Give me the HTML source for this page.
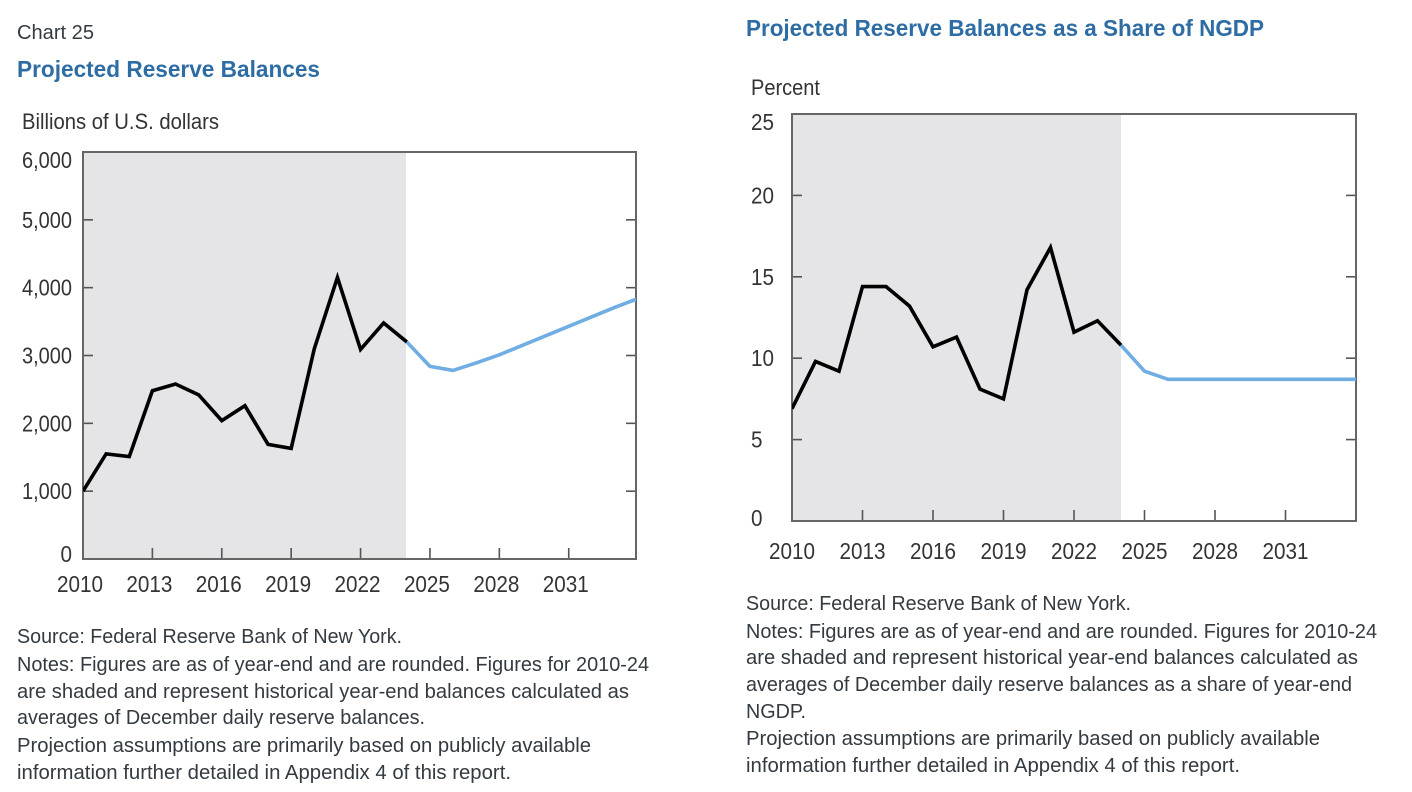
<!DOCTYPE html>
<html lang="en">
<head>
<meta charset="utf-8">
<title>Projected Reserve Balances</title>
<style>
html,body{margin:0;padding:0;background:#fff;width:1412px;height:792px;overflow:hidden}
svg{display:block}
text{font-family:"Liberation Sans",sans-serif}
.body{font-size:20px;fill:#333a40}
.title{font-size:23px;font-weight:bold;fill:#2e6ca4}
.unit{font-size:22px;fill:#333}
.tick{font-size:23px;fill:#333}
</style>
</head>
<body>
<svg id="root" xmlns="http://www.w3.org/2000/svg" width="1412" height="792" viewBox="0 0 1412 792">
  <defs>
    <clipPath id="clip-left"><rect x="83" y="152" width="553" height="407"/></clipPath>
    <clipPath id="clip-right"><rect x="792" y="114" width="564" height="407"/></clipPath>
  </defs>

  <text class="body" x="17" y="39" textLength="77" lengthAdjust="spacingAndGlyphs">Chart 25</text>
  <text class="title" x="17" y="77" textLength="303" lengthAdjust="spacingAndGlyphs">Projected Reserve Balances</text>
  <text class="unit" x="22" y="129" textLength="197" lengthAdjust="spacingAndGlyphs">Billions of U.S. dollars</text>

  <text class="title" x="746" y="36" textLength="518" lengthAdjust="spacingAndGlyphs">Projected Reserve Balances as a Share of NGDP</text>
  <text class="unit" x="751" y="95" textLength="69" lengthAdjust="spacingAndGlyphs">Percent</text>

  <g id="left-plot"></g>
  <g id="right-plot"></g>

  <g>
    <text class="body" x="17" y="643" textLength="385" lengthAdjust="spacingAndGlyphs">Source: Federal Reserve Bank of New York.</text>
    <text class="body" x="17" y="671" textLength="632" lengthAdjust="spacingAndGlyphs">Notes: Figures are as of year-end and are rounded. Figures for 2010-24</text>
    <text class="body" x="17" y="698" textLength="612" lengthAdjust="spacingAndGlyphs">are shaded and represent historical year-end balances calculated as</text>
    <text class="body" x="17" y="724" textLength="408" lengthAdjust="spacingAndGlyphs">averages of December daily reserve balances.</text>
    <text class="body" x="17" y="752" textLength="574" lengthAdjust="spacingAndGlyphs">Projection assumptions are primarily based on publicly available</text>
    <text class="body" x="17" y="779" textLength="494" lengthAdjust="spacingAndGlyphs">information further detailed in Appendix 4 of this report.</text>
  </g>

  <g>
    <text class="body" x="746" y="610" textLength="385" lengthAdjust="spacingAndGlyphs">Source: Federal Reserve Bank of New York.</text>
    <text class="body" x="746" y="638" textLength="631" lengthAdjust="spacingAndGlyphs">Notes: Figures are as of year-end and are rounded. Figures for 2010-24</text>
    <text class="body" x="746" y="664" textLength="612" lengthAdjust="spacingAndGlyphs">are shaded and represent historical year-end balances calculated as</text>
    <text class="body" x="746" y="691" textLength="606" lengthAdjust="spacingAndGlyphs">averages of December daily reserve balances as a share of year-end</text>
    <text class="body" x="746" y="718" textLength="60" lengthAdjust="spacingAndGlyphs">NGDP.</text>
    <text class="body" x="746" y="745" textLength="574" lengthAdjust="spacingAndGlyphs">Projection assumptions are primarily based on publicly available</text>
    <text class="body" x="746" y="772" textLength="494" lengthAdjust="spacingAndGlyphs">information further detailed in Appendix 4 of this report.</text>
  </g>
</svg>

<script>
const historyYears = [2010,2011,2012,2013,2014,2015,2016,2017,2018,2019,2020,2021,2022,2023,2024];
const projectionYears = [2024,2025,2026,2027,2028,2029,2030,2031,2032,2033,2034];
const xTickLabels = [2010,2013,2016,2019,2022,2025,2028,2031];

const leftHistory = [1000,1550,1510,2480,2580,2420,2040,2260,1690,1630,3100,4150,3090,3480,3200];
const leftProjection = [3200,2840,2780,2890,3010,3150,3290,3430,3570,3710,3840];
const leftYTicks = [0,1000,2000,3000,4000,5000,6000];
const leftYLabels = ["0","1,000","2,000","3,000","4,000","5,000","6,000"];

const rightHistory = [6.9,9.8,9.2,14.4,14.4,13.2,10.7,11.3,8.1,7.5,14.2,16.8,11.6,12.3,10.8];
const rightProjection = [10.8,9.2,8.7,8.7,8.7,8.7,8.7,8.7,8.7,8.7,8.7];
const rightYTicks = [0,5,10,15,20,25];
const rightYLabels = ["0","5","10","15","20","25"];

const shadeEndYear = 2024;
const NS = 'http://www.w3.org/2000/svg';

function svgEl(parent, tag, attrs) {
  const el = document.createElementNS(NS, tag);
  for (const k in attrs) el.setAttribute(k, attrs[k]);
  parent.appendChild(el);
  return el;
}

function labelWidth(label) {
  const digits = label.replace(/[^0-9]/g, '').length;
  return digits * 11.5 + (label.indexOf(',') >= 0 ? 4 : 0);
}

function drawChart(c) {
  const g = document.getElementById(c.id);
  const xScale = y => c.left + (y - 2010) * c.perYear;
  const yScale = v => c.bottom - (v / c.yMax) * (c.bottom - c.top);
  const pathOf = (xs, ys) => xs.map((x, i) => (i ? 'L' : 'M') + xScale(x).toFixed(2) + ' ' + yScale(ys[i]).toFixed(2)).join(' ');

  const shade = svgEl(g, 'rect', {x: c.left, y: c.top, width: xScale(shadeEndYear) - c.left - c.shadeTrim, height: c.bottom - c.top, fill: '#e5e5e8'});
  
  

  c.yTicks.forEach((v, i) => {
    const y = yScale(v);
    if (i > 0 && i < c.yTicks.length - 1) {
      const tl = svgEl(g, 'line', {x1: c.left, x2: c.left + 10, y1: y, y2: y, stroke: '#555', 'stroke-width': 1.6});
      
      
      const tr = svgEl(g, 'line', {x1: c.right - 10, x2: c.right, y1: y, y2: y, stroke: '#555', 'stroke-width': 1.6});
      
      
    }
    const labelY = Math.min(Math.max(y, c.top + 8), c.bottom - c.zeroLift);
    const label = c.yLabels[i];
    const lab = svgEl(g, 'text', {
      class: 'tick',
      x: c.labelX,
      y: labelY + 8,
      'text-anchor': c.labelAnchor,
      textLength: labelWidth(label),
      lengthAdjust: 'spacingAndGlyphs'
    });
    
    
    lab.textContent = label;
  });

  xTickLabels.forEach(year => {
    const x = xScale(year);
    if (year !== 2010) {
      const t = svgEl(g, 'line', {x1: x, x2: x, y1: c.bottom - 11, y2: c.bottom, stroke: '#555', 'stroke-width': 1.6});
      
      
    }
    const lab = svgEl(g, 'text', {class: 'tick', x: x + c.xLabelShift, y: c.xLabelY, 'text-anchor': 'middle', textLength: 46, lengthAdjust: 'spacingAndGlyphs'});
    
    
    lab.textContent = String(year);
  });

  const frame = svgEl(g, 'rect', {x: c.left, y: c.top, width: c.right - c.left, height: c.bottom - c.top, fill: 'none', stroke: '#666', 'stroke-width': 2});
  
  

  const proj = svgEl(g, 'path', {d: pathOf(projectionYears, c.projection), fill: 'none', stroke: '#6fade3', 'stroke-width': 3.6, 'stroke-linejoin': 'round', 'clip-path': 'url(#' + c.clip + ')'});
  
  

  const hist = svgEl(g, 'path', {d: pathOf(historyYears, c.history), fill: 'none', stroke: '#000', 'stroke-width': 3.6, 'stroke-linejoin': 'miter', 'clip-path': 'url(#' + c.clip + ')'});
  
  
}

drawChart({
  id: 'left-plot', clip: 'clip-left',
  left: 83, right: 636, top: 152, bottom: 559, perYear: 23.13, yMax: 6000, shadeTrim: 0.8,
  yTicks: leftYTicks, yLabels: leftYLabels,
  history: leftHistory, projection: leftProjection,
  labelX: 72, labelAnchor: 'end', zeroLift: 5, xLabelY: 592, xLabelShift: -3
});

drawChart({
  id: 'right-plot', clip: 'clip-right',
  left: 792, right: 1356, top: 114, bottom: 521, perYear: 23.5, yMax: 25, shadeTrim: 0,
  yTicks: rightYTicks, yLabels: rightYLabels,
  history: rightHistory, projection: rightProjection,
  labelX: 751, labelAnchor: 'start', zeroLift: 3, xLabelY: 559, xLabelShift: 0
});
</script>
</body>
</html>
